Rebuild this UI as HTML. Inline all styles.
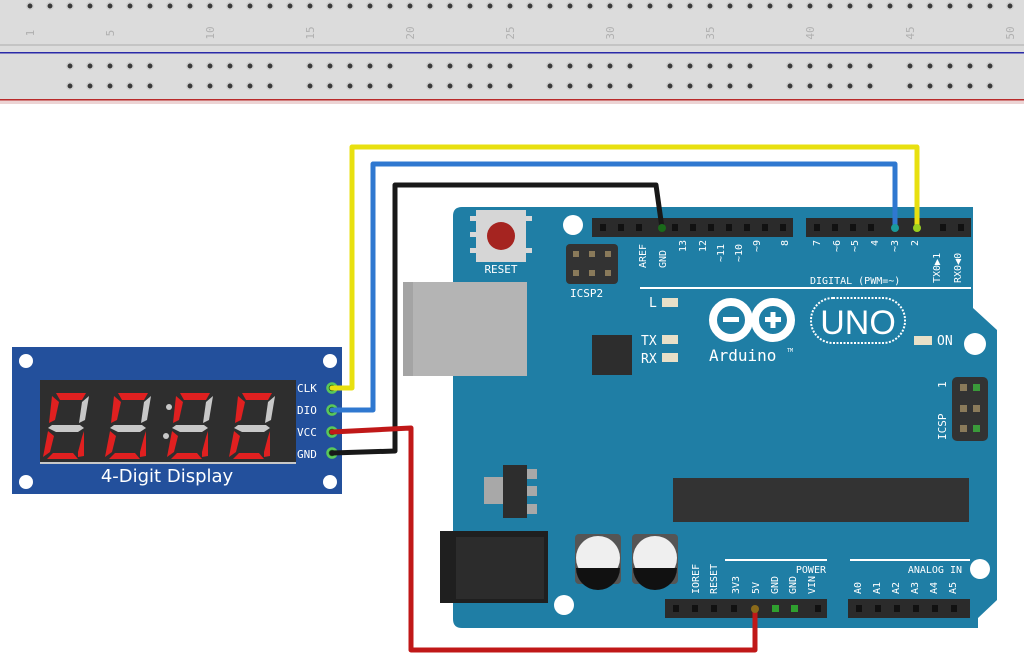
<!DOCTYPE html>
<html><head><meta charset="utf-8"><style>
html,body{margin:0;padding:0;background:#fff;}
svg{display:block;}
text{font-family:"DejaVu Sans Mono","Liberation Mono",monospace;}
</style></head><body>
<svg width="1024" height="663" viewBox="0 0 1024 663" xmlns="http://www.w3.org/2000/svg">
<!-- breadboard -->
<rect x="0" y="0" width="1024" height="104" fill="#dcdcdc"/>
<rect x="0" y="44" width="1024" height="2" fill="#c4c4c4"/>
<rect x="0" y="52" width="1024" height="1.5" fill="#2a2aa8"/>
<rect x="0" y="99" width="1024" height="1.5" fill="#b82a2a"/>
<rect x="0" y="100.5" width="1024" height="3.5" fill="#ecd4d4"/>
<g fill="#3a3a3a" stroke="#cfcfcf" stroke-width="1.5">
<circle cx="30" cy="6" r="3.2"/><circle cx="50" cy="6" r="3.2"/><circle cx="70" cy="6" r="3.2"/><circle cx="90" cy="6" r="3.2"/><circle cx="110" cy="6" r="3.2"/><circle cx="130" cy="6" r="3.2"/><circle cx="150" cy="6" r="3.2"/><circle cx="170" cy="6" r="3.2"/><circle cx="190" cy="6" r="3.2"/><circle cx="210" cy="6" r="3.2"/><circle cx="230" cy="6" r="3.2"/><circle cx="250" cy="6" r="3.2"/><circle cx="270" cy="6" r="3.2"/><circle cx="290" cy="6" r="3.2"/><circle cx="310" cy="6" r="3.2"/><circle cx="330" cy="6" r="3.2"/><circle cx="350" cy="6" r="3.2"/><circle cx="370" cy="6" r="3.2"/><circle cx="390" cy="6" r="3.2"/><circle cx="410" cy="6" r="3.2"/><circle cx="430" cy="6" r="3.2"/><circle cx="450" cy="6" r="3.2"/><circle cx="470" cy="6" r="3.2"/><circle cx="490" cy="6" r="3.2"/><circle cx="510" cy="6" r="3.2"/><circle cx="530" cy="6" r="3.2"/><circle cx="550" cy="6" r="3.2"/><circle cx="570" cy="6" r="3.2"/><circle cx="590" cy="6" r="3.2"/><circle cx="610" cy="6" r="3.2"/><circle cx="630" cy="6" r="3.2"/><circle cx="650" cy="6" r="3.2"/><circle cx="670" cy="6" r="3.2"/><circle cx="690" cy="6" r="3.2"/><circle cx="710" cy="6" r="3.2"/><circle cx="730" cy="6" r="3.2"/><circle cx="750" cy="6" r="3.2"/><circle cx="770" cy="6" r="3.2"/><circle cx="790" cy="6" r="3.2"/><circle cx="810" cy="6" r="3.2"/><circle cx="830" cy="6" r="3.2"/><circle cx="850" cy="6" r="3.2"/><circle cx="870" cy="6" r="3.2"/><circle cx="890" cy="6" r="3.2"/><circle cx="910" cy="6" r="3.2"/><circle cx="930" cy="6" r="3.2"/><circle cx="950" cy="6" r="3.2"/><circle cx="970" cy="6" r="3.2"/><circle cx="990" cy="6" r="3.2"/><circle cx="1010" cy="6" r="3.2"/>
</g>
<g fill="#3a3a3a" stroke="#cfcfcf" stroke-width="1.5">
<g id="g5"><circle cx="70" cy="66" r="3.2"/><circle cx="90" cy="66" r="3.2"/><circle cx="110" cy="66" r="3.2"/><circle cx="130" cy="66" r="3.2"/><circle cx="150" cy="66" r="3.2"/><circle cx="70" cy="86" r="3.2"/><circle cx="90" cy="86" r="3.2"/><circle cx="110" cy="86" r="3.2"/><circle cx="130" cy="86" r="3.2"/><circle cx="150" cy="86" r="3.2"/></g>
<use href="#g5" x="120"/><use href="#g5" x="240"/><use href="#g5" x="360"/><use href="#g5" x="480"/><use href="#g5" x="600"/><use href="#g5" x="720"/><use href="#g5" x="840"/>
</g>
<g fill="#b0b0b0" font-size="11">
<text transform="translate(34,33) rotate(-90)" text-anchor="middle">1</text>
<text transform="translate(114,33) rotate(-90)" text-anchor="middle">5</text>
<text transform="translate(214,33) rotate(-90)" text-anchor="middle">10</text>
<text transform="translate(314,33) rotate(-90)" text-anchor="middle">15</text>
<text transform="translate(414,33) rotate(-90)" text-anchor="middle">20</text>
<text transform="translate(514,33) rotate(-90)" text-anchor="middle">25</text>
<text transform="translate(614,33) rotate(-90)" text-anchor="middle">30</text>
<text transform="translate(714,33) rotate(-90)" text-anchor="middle">35</text>
<text transform="translate(814,33) rotate(-90)" text-anchor="middle">40</text>
<text transform="translate(914,33) rotate(-90)" text-anchor="middle">45</text>
<text transform="translate(1014,33) rotate(-90)" text-anchor="middle">50</text>
</g>

<!-- Arduino board -->
<path d="M462,207 L973,207 L973,308 L997,330 L997,600 L978,618 L978,628 L462,628 Q453,628 453,619 L453,216 Q453,207 462,207 Z" fill="#1f7ea5"/>
<circle cx="573" cy="225" r="10" fill="#fff"/>
<circle cx="975" cy="344" r="11" fill="#fff"/>
<circle cx="564" cy="605" r="10" fill="#fff"/>
<circle cx="980" cy="569" r="10" fill="#fff"/>
<!-- reset -->
<rect x="470" y="216" width="8" height="5" fill="#d8d8d8"/><rect x="470" y="232" width="8" height="5" fill="#d8d8d8"/><rect x="470" y="248" width="8" height="5" fill="#d8d8d8"/>
<rect x="524" y="216" width="8" height="5" fill="#d8d8d8"/><rect x="524" y="248" width="8" height="5" fill="#d8d8d8"/>
<rect x="476" y="210" width="50" height="52" fill="#d6d6d6"/>
<circle cx="501" cy="236" r="14" fill="#a52420"/>
<text x="501" y="273" fill="#fff" font-size="11" text-anchor="middle">RESET</text>
<!-- ICSP2 -->
<rect x="566" y="244" width="52" height="40" rx="4" fill="#333"/>
<g fill="#8a7a5a"><rect x="573" y="251" width="6" height="6"/><rect x="589" y="251" width="6" height="6"/><rect x="605" y="251" width="6" height="6"/><rect x="573" y="270" width="6" height="6"/><rect x="589" y="270" width="6" height="6"/><rect x="605" y="270" width="6" height="6"/></g>
<text x="570" y="297" fill="#fff" font-size="11">ICSP2</text>
<!-- USB -->
<rect x="403" y="282" width="124" height="94" fill="#b4b4b4"/>
<rect x="403" y="282" width="10" height="94" fill="#a4a4a4"/>
<rect x="592" y="335" width="40" height="40" fill="#2d2d2d"/>
<!-- headers top -->
<rect x="592" y="218" width="201" height="19" fill="#2b2b2b"/>
<rect x="806" y="218" width="165" height="19" fill="#2b2b2b"/>
<g fill="#111">
<rect x="600" y="224" width="6" height="7"/><rect x="618" y="224" width="6" height="7"/><rect x="636" y="224" width="6" height="7"/><rect x="672" y="224" width="6" height="7"/><rect x="690" y="224" width="6" height="7"/><rect x="708" y="224" width="6" height="7"/><rect x="726" y="224" width="6" height="7"/><rect x="744" y="224" width="6" height="7"/><rect x="762" y="224" width="6" height="7"/><rect x="780" y="224" width="6" height="7"/>
<rect x="814" y="224" width="6" height="7"/><rect x="832" y="224" width="6" height="7"/><rect x="850" y="224" width="6" height="7"/><rect x="868" y="224" width="6" height="7"/><rect x="940" y="224" width="6" height="7"/><rect x="958" y="224" width="6" height="7"/>
</g>
<g fill="#fff" font-size="10">
<text transform="translate(646,268) rotate(-90)">AREF</text>
<text transform="translate(666,268) rotate(-90)">GND</text>
<text transform="translate(686,252) rotate(-90)">13</text>
<text transform="translate(706,252) rotate(-90)">12</text>
<text transform="translate(724,262) rotate(-90)">~11</text>
<text transform="translate(742,262) rotate(-90)">~10</text>
<text transform="translate(760,252) rotate(-90)">~9</text>
<text transform="translate(788,246) rotate(-90)">8</text>
<text transform="translate(820,246) rotate(-90)">7</text>
<text transform="translate(840,252) rotate(-90)">~6</text>
<text transform="translate(858,252) rotate(-90)">~5</text>
<text transform="translate(878,246) rotate(-90)">4</text>
<text transform="translate(898,252) rotate(-90)">~3</text>
<text transform="translate(918,246) rotate(-90)">2</text>
<text transform="translate(940,283) rotate(-90)">TX0▶1</text>
<text transform="translate(961,283) rotate(-90)">RX0◀0</text>
<text x="810" y="284">DIGITAL (PWM=~)</text>
</g>
<rect x="640" y="287" width="331" height="2" fill="#fff"/>
<g fill="#e8e0c8"><rect x="662" y="298" width="16" height="9"/><rect x="662" y="335" width="16" height="9"/><rect x="662" y="353" width="16" height="9"/><rect x="914" y="336" width="18" height="9"/></g>
<g fill="#fff" font-size="13"><text x="649" y="307">L</text><text x="641" y="345">TX</text><text x="641" y="363">RX</text><text x="937" y="345">ON</text></g>
<!-- logo -->
<circle cx="731" cy="320" r="18" fill="none" stroke="#fff" stroke-width="8"/>
<circle cx="773" cy="320" r="18" fill="none" stroke="#fff" stroke-width="8"/>
<rect x="723" y="317" width="16" height="5" fill="#fff"/>
<rect x="765" y="317" width="16" height="5" fill="#fff"/><rect x="770.5" y="312" width="5" height="16" fill="#fff"/>
<rect x="811" y="298" width="94" height="45" rx="22" fill="none" stroke="#fff" stroke-width="2" stroke-dasharray="2,1.5"/>
<text x="858" y="334" fill="#fff" font-size="34" text-anchor="middle" style="font-family:'Liberation Sans',sans-serif">UNO</text>
<text x="709" y="361" fill="#fff" font-size="16">Arduino</text>
<text x="787" y="352" fill="#fff" font-size="5">TM</text>
<!-- ICSP right -->
<rect x="952" y="377" width="36" height="64" rx="5" fill="#333"/>
<g><rect x="960" y="384" width="7" height="7" fill="#8a7a5a"/><rect x="973" y="384" width="7" height="7" fill="#3a9a3a"/><rect x="960" y="405" width="7" height="7" fill="#8a7a5a"/><rect x="973" y="405" width="7" height="7" fill="#8a7a5a"/><rect x="960" y="425" width="7" height="7" fill="#8a7a5a"/><rect x="973" y="425" width="7" height="7" fill="#3a9a3a"/></g>
<text transform="translate(946,388) rotate(-90)" fill="#fff" font-size="11">1</text>
<text transform="translate(946,440) rotate(-90)" fill="#fff" font-size="11">ICSP</text>
<!-- regulator -->
<rect x="484" y="477" width="22" height="27" fill="#a8a8a8"/>
<rect x="525" y="469" width="12" height="10" fill="#a8a8a8"/><rect x="525" y="486" width="12" height="10" fill="#a8a8a8"/><rect x="525" y="504" width="12" height="10" fill="#a8a8a8"/>
<rect x="503" y="465" width="24" height="53" fill="#2d2d2d"/>
<rect x="673" y="478" width="296" height="44" fill="#333"/>
<!-- dc jack -->
<rect x="440" y="531" width="108" height="72" fill="#1f1f1f"/>
<rect x="456" y="537" width="88" height="62" fill="#2c2c2c"/>
<!-- caps -->
<rect x="575" y="534" width="46" height="50" rx="4" fill="#555"/>
<rect x="632" y="534" width="46" height="50" rx="4" fill="#555"/>
<circle cx="598" cy="558" r="22" fill="#efefef"/>
<circle cx="655" cy="558" r="22" fill="#efefef"/>
<path d="M576,568 A22,22 0 0 0 620,568 Z" fill="#111"/>
<path d="M633,568 A22,22 0 0 0 677,568 Z" fill="#111"/>
<!-- power header -->
<rect x="725" y="559" width="102" height="2" fill="#fff"/>
<rect x="850" y="559" width="120" height="2" fill="#fff"/>
<g fill="#fff" font-size="10">
<text x="826" y="573" text-anchor="end">POWER</text>
<text x="962" y="573" text-anchor="end">ANALOG IN</text>
<text transform="translate(699,594) rotate(-90)">IOREF</text>
<text transform="translate(717,594) rotate(-90)">RESET</text>
<text transform="translate(739,594) rotate(-90)">3V3</text>
<text transform="translate(759,594) rotate(-90)">5V</text>
<text transform="translate(778,594) rotate(-90)">GND</text>
<text transform="translate(796,594) rotate(-90)">GND</text>
<text transform="translate(815,594) rotate(-90)">VIN</text>
<text transform="translate(861,594) rotate(-90)">A0</text>
<text transform="translate(880,594) rotate(-90)">A1</text>
<text transform="translate(899,594) rotate(-90)">A2</text>
<text transform="translate(918,594) rotate(-90)">A3</text>
<text transform="translate(937,594) rotate(-90)">A4</text>
<text transform="translate(956,594) rotate(-90)">A5</text>
</g>
<rect x="665" y="599" width="162" height="19" fill="#2b2b2b"/>
<rect x="848" y="599" width="122" height="19" fill="#2b2b2b"/>
<g fill="#111">
<rect x="673" y="605" width="6" height="7"/><rect x="692" y="605" width="6" height="7"/><rect x="711" y="605" width="6" height="7"/><rect x="731" y="605" width="6" height="7"/><rect x="815" y="605" width="6" height="7"/>
<rect x="856" y="605" width="6" height="7"/><rect x="875" y="605" width="6" height="7"/><rect x="894" y="605" width="6" height="7"/><rect x="913" y="605" width="6" height="7"/><rect x="932" y="605" width="6" height="7"/><rect x="951" y="605" width="6" height="7"/>
</g>
<rect x="772" y="605" width="7" height="7" fill="#2fa02f"/><rect x="791" y="605" width="7" height="7" fill="#2fa02f"/>

<!-- display module -->
<rect x="12" y="347" width="330" height="147" fill="#23509c"/>
<g fill="#fff"><circle cx="26" cy="361" r="7"/><circle cx="330" cy="361" r="7"/><circle cx="26" cy="482" r="7"/><circle cx="330" cy="482" r="7"/></g>
<rect x="40" y="380" width="256" height="83" fill="#2e2e2e"/>
<rect x="40" y="462" width="256" height="2" fill="#c8c8c8"/>
<g id="dig">
<polygon points="56,393 86,393 82,400 60,400" fill="#e02020"/>
<polygon points="52,396 59,402 55,420 49,423" fill="#e02020"/>
<polygon points="89,396 85,420 79,423 82,402" fill="#c8c8c8"/>
<polygon points="52,425 80,425 84,428 78,432 56,432 48,428" fill="#c8c8c8"/>
<polygon points="48,431 54,436 50,452 43,457" fill="#e02020"/>
<polygon points="84,431 82,437 78,452 78,457 84,456" fill="#e02020"/>
<polygon points="47,459 53,453 73,453 78,459" fill="#e02020"/>
</g>
<use href="#dig" x="62"/><use href="#dig" x="124"/><use href="#dig" x="186"/>
<circle cx="169" cy="407" r="3" fill="#c8c8c8"/><circle cx="166" cy="436" r="3" fill="#c8c8c8"/>
<text x="167" y="482" fill="#fff" font-size="18" text-anchor="middle" style="font-family:'DejaVu Sans','Liberation Sans',sans-serif">4-Digit Display</text>
<g fill="#fff" font-size="11" style="font-family:'DejaVu Sans','Liberation Sans',sans-serif">
<text x="297" y="392">CLK</text><text x="297" y="414">DIO</text><text x="297" y="436">VCC</text><text x="297" y="458">GND</text>
</g>
<g fill="#1a5a1a" stroke="#5ac85a" stroke-width="2.5">
<circle cx="332" cy="388" r="4.5"/><circle cx="332" cy="410" r="4.5"/><circle cx="332" cy="432" r="4.5"/><circle cx="332" cy="453" r="4.5"/>
</g>

<!-- wires -->
<g fill="none" stroke-width="5" stroke-linejoin="round" stroke-linecap="round">
<path d="M332,388 L352,388 L352,147 L917,147 L917,228" stroke="#e8e010"/>
<path d="M332,410 L373,410 L373,164 L895,164 L895,228" stroke="#2f78d0"/>
<path d="M332,453 L395,451 L395,185 L656,185 L662,228" stroke="#181818"/>
<path d="M332,432 L411,428 L411,650 L755,650 L755,610" stroke="#c01818"/>
</g>
<circle cx="917" cy="228" r="4" fill="#9ad020"/>
<circle cx="895" cy="228" r="4" fill="#1a9a9a"/>
<circle cx="662" cy="228" r="4" fill="#1a6a1a"/>
<circle cx="755" cy="609" r="4" fill="#8a6a1a"/>
</svg>
</body></html>
